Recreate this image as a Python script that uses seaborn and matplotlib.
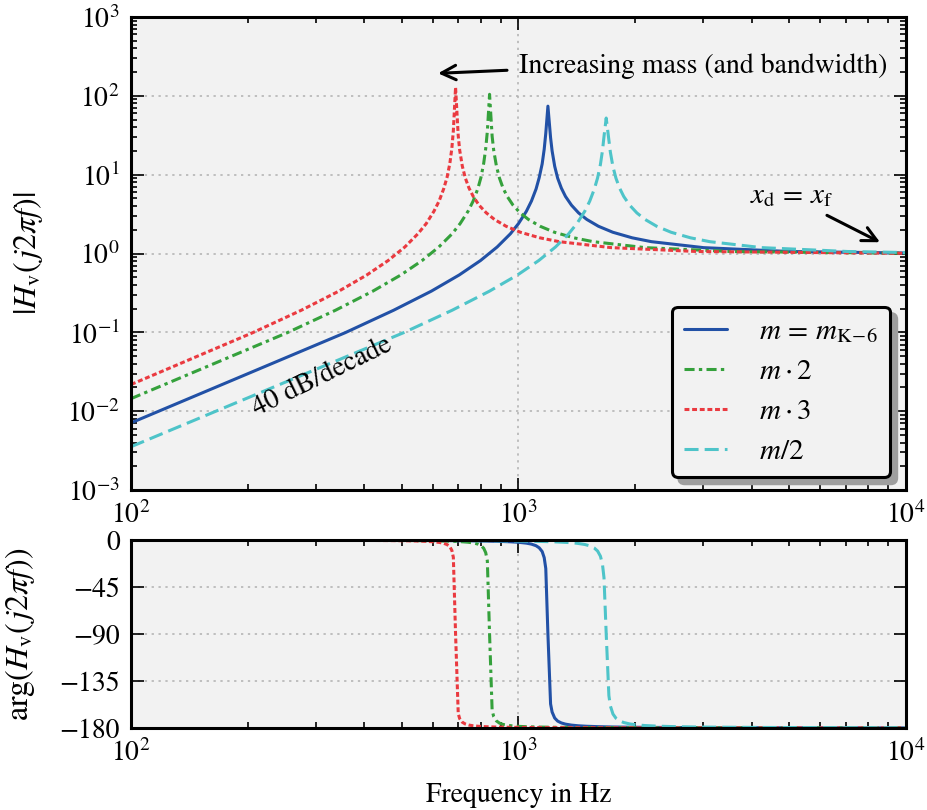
import numpy as np
import pandas as pd
import matplotlib
matplotlib.use("Agg")
import matplotlib.pyplot as plt
from matplotlib.ticker import LogLocator, NullFormatter, NullLocator, FixedLocator
import seaborn as sns

# ---- frequency response samples (Hz, |H|, phase in degrees) ----
freq_k6 = [100, 357, 476, 596, 703, 798, 881, 953, 1000, 1048, 1080, 1110, 1131,
           1151, 1165, 1176, 1191, 1210, 1221, 1240, 1262, 1290, 1322, 1370, 1429,
           1501, 1608, 1751, 1965, 2203, 3001, 5002, 10000]
mag_k6 = [0.0071, 0.0989, 0.1905, 0.3333, 0.534, 0.8146, 1.210, 1.778, 2.397, 3.433,
          4.628, 6.581, 9.177, 13.70, 21.03, 33.51, 74.0, 29.44, 20.02, 12.77, 9.03,
          6.751, 5.297, 4.101, 3.273, 2.702, 2.216, 1.861, 1.581, 1.413, 1.187, 1.060,
          1.0144]
phase_k6 = [-0.07, -0.26, -0.37, -0.52, -0.70, -0.94, -1.27, -1.72, -2.21, -3.02,
            -3.95, -5.48, -7.50, -11.05, -16.90, -27.31, -90.0, -156.93, -164.69,
            -170.46, -173.39, -175.16, -176.30, -177.24, -177.89, -178.34, -178.73,
            -179.02, -179.26, -179.41, -179.64, -179.80, -179.91]

freq_x2 = [100, 253, 337, 421, 497, 564, 623, 674, 707, 741, 764, 785, 800, 813, 823,
           831, 842, 855, 863, 877, 893, 912, 935, 968, 1010, 1061, 1137, 1238, 1389,
           1558, 2122, 3536, 10000]
mag_x2 = [0.01441, 0.0989, 0.1905, 0.3333, 0.534, 0.8146, 1.210, 1.778, 2.397, 3.433,
          4.633, 6.597, 9.217, 13.83, 21.49, 35.42, 104.6, 30.64, 20.37, 12.86, 9.06,
          6.78, 5.30, 4.101, 3.273, 2.702, 2.216, 1.861, 1.581, 1.413, 1.187, 1.060,
          1.0071]
phase_x2 = [-0.07, -0.18, -0.26, -0.37, -0.49, -0.66, -0.90, -1.22, -1.56, -2.14,
            -2.79, -3.88, -5.32, -7.86, -12.13, -20.07, -90.0, -163.25, -169.04,
            -173.22, -175.31, -176.58, -177.38, -178.05, -178.51, -178.83, -179.10,
            -179.31, -179.48, -179.58, -179.75, -179.86, -179.95]

freq_x3 = [100, 206, 275, 344, 406, 461, 509, 550, 578, 605, 624, 641, 654, 665, 673,
           679, 688, 699, 705, 716, 729, 745, 764, 791, 826, 867, 929, 1011, 1135,
           1273, 1734, 2890, 10000]
mag_x3 = [0.02178, 0.0989, 0.1905, 0.3333, 0.534, 0.8146, 1.210, 1.778, 2.397, 3.433,
          4.635, 6.602, 9.230, 13.87, 21.65, 36.15, 128.0, 31.08, 20.50, 12.89, 9.07,
          6.78, 5.305, 4.101, 3.273, 2.702, 2.216, 1.861, 1.581, 1.413, 1.187, 1.060,
          1.0047]
phase_x3 = [-0.07, -0.15, -0.21, -0.30, -0.40, -0.54, -0.73, -0.99, -1.28, -1.74,
            -2.28, -3.17, -4.35, -6.43, -9.95, -16.60, -90.0, -166.20, -171.02,
            -174.46, -176.17, -177.21, -177.86, -178.41, -178.78, -179.04, -179.27,
            -179.43, -179.57, -179.66, -179.79, -179.88, -179.97]

freq_half = [100, 505, 674, 842, 994, 1128, 1246, 1347, 1415, 1482, 1527, 1569, 1600,
             1627, 1647, 1662, 1684, 1711, 1726, 1753, 1785, 1824, 1869, 1937, 2021,
             2122, 2273, 2475, 2779, 3115, 4244, 7073, 10000]
mag_half = [0.003539, 0.0989, 0.1905, 0.3333, 0.534, 0.8146, 1.210, 1.778, 2.397,
            3.423, 4.617, 6.552, 9.100, 13.46, 20.19, 30.46, 52.3, 27.41, 19.35, 12.60,
            8.97, 6.736, 5.286, 4.091, 3.268, 2.702, 2.216, 1.861, 1.581, 1.413, 1.187,
            1.060, 1.0292]
phase_half = [-0.07, -0.37, -0.52, -0.74, -0.99, -1.33, -1.80, -2.43, -3.12, -4.27,
              -5.58, -7.72, -10.55, -15.45, -23.25, -36.15, -90.0, -148.94, -158.83,
              -166.62, -170.69, -173.17, -174.78, -176.10, -177.02, -177.65, -178.20,
              -178.61, -178.95, -179.16, -179.48, -179.72, -179.81]

labels = [r"$m\,=\,m_{\mathrm{K\!-\!6}}$", r"$m \cdot 2$", r"$m \cdot 3$", r"$m/2$"]
colors = ["#2251a6", "#35a13c", "#ea3a40", "#4ec4c9"]
styles = ["-", (0, (3.3, 1.4, 1.1, 1.4)), (0, (1.6, 0.9)), (0, (4.6, 2.0))]

phase_ticks = [0, -45, -90, -135, -180]

series = [
    (freq_k6, mag_k6, phase_k6),
    (freq_x2, mag_x2, phase_x2),
    (freq_x3, mag_x3, phase_x3),
    (freq_half, mag_half, phase_half),
]

# ---- styling ----
sns.set_theme(style="ticks")
plt.rcParams.update({
    "font.family": ["STIXGeneral", "DejaVu Serif"],
    "mathtext.fontset": "stix",
    "font.size": 20,
    "axes.labelsize": 20,
    "xtick.labelsize": 20,
    "ytick.labelsize": 20,
    "axes.edgecolor": "black",
    "xtick.color": "black",
    "ytick.color": "black",
    "text.color": "black",
    "axes.labelcolor": "black",
})

BG = "#f2f2f2"
LW = 2.2

fig = plt.figure(figsize=(9.27, 8.10), dpi=100)
ax_mag = fig.add_axes([131 / 927, 320 / 810, 775 / 927, 473 / 810])
ax_ph = fig.add_axes([131 / 927, 82 / 810, 775 / 927, 188 / 810])

for ax in (ax_mag, ax_ph):
    ax.set_facecolor(BG)
    ax.set_xscale("log")
ax_mag.set_yscale("log")

handles = []
for (f, m, p), lab, col, ls in zip(series, labels, colors, styles):
    df = pd.DataFrame({"f": f, "mag": m, "phase": p})
    sns.lineplot(data=df, x="f", y="mag", ax=ax_mag, color=col, linewidth=LW,
                 errorbar=None, legend=False)
    line = ax_mag.lines[-1]
    line.set_linestyle(ls)
    line.set_label(lab)
    line.set_dash_capstyle("butt")
    handles.append(line)
    sns.lineplot(data=df, x="f", y="phase", ax=ax_ph, color=col, linewidth=LW,
                 errorbar=None, legend=False)
    pl = ax_ph.lines[-1]
    pl.set_linestyle(ls)
    pl.set_dash_capstyle("butt")

# ---- axes ----
ax_mag.set_xlim(100, 1e4)
ax_mag.set_ylim(1e-3, 1e3)
ax_ph.set_xlim(100, 1e4)
ax_ph.set_ylim(-180, 0)

ax_mag.yaxis.set_major_locator(LogLocator(base=10, numticks=20))
ax_mag.yaxis.set_minor_locator(LogLocator(base=10, subs=np.arange(2, 10), numticks=50))
ax_mag.yaxis.set_minor_formatter(NullFormatter())
for ax in (ax_mag, ax_ph):
    ax.xaxis.set_major_locator(LogLocator(base=10, numticks=20))
    ax.xaxis.set_minor_locator(LogLocator(base=10, subs=np.arange(2, 10), numticks=50))
    ax.xaxis.set_minor_formatter(NullFormatter())
ax_ph.yaxis.set_major_locator(FixedLocator(phase_ticks))
ax_ph.yaxis.set_minor_locator(NullLocator())

for ax in (ax_mag, ax_ph):
    ax.tick_params(which="both", direction="in", top=True, right=True,
                   width=1.2, color="black")
    ax.tick_params(which="major", length=9, pad=8)
    ax.tick_params(which="minor", length=4.5)
    ax.grid(True, which="major", color="#b0b0b0", linestyle=(0, (1.5, 3.0)),
            linewidth=1.1)
    ax.grid(False, which="minor")
    for s in ax.spines.values():
        s.set_linewidth(2.2)
        s.set_color("black")
        s.set_visible(True)
    ax.set_xlabel("")
    ax.set_ylabel("")

ax_mag.set_ylabel(r"$|H_\mathrm{v}(\,j2\pi f)|$", fontsize=23)
ax_ph.set_ylabel(r"$\arg(H_\mathrm{v}(\,j2\pi f))$", fontsize=23)
ax_mag.yaxis.set_label_coords(-0.111, 0.5)
ax_ph.yaxis.set_label_coords(-0.121, 0.5)
ax_ph.set_xlabel("Frequency in Hz")
ax_ph.xaxis.set_label_coords(0.5, -0.29)

# ---- annotations ----
ax_mag.annotate("", xy=(620, 193), xytext=(934, 211),
                arrowprops=dict(arrowstyle="->", lw=2.2, color="black",
                                mutation_scale=26, shrinkA=0, shrinkB=0))
ax_mag.text(1003, 193, "Increasing mass (and bandwidth)", ha="left", va="baseline",
            fontsize=20)
ax_mag.annotate("", xy=(8570, 1.39), xytext=(6252, 3.05),
                arrowprops=dict(arrowstyle="->", lw=2.2, color="black",
                                mutation_scale=26, shrinkA=0, shrinkB=0))
ax_mag.text(3954, 4.34, r"$x_\mathrm{d}\,=\,x_\mathrm{f}$", ha="left", va="baseline",
            fontsize=21)
ax_mag.text(311, 0.027, "40 dB/decade", ha="center", va="center", rotation=26,
            rotation_mode="anchor", fontsize=20)

# ---- legend ----
leg = ax_mag.legend(handles=handles, labels=labels, loc="lower right",
                    bbox_to_anchor=(0.979, 0.028), borderaxespad=0,
                    frameon=True, fancybox=True, framealpha=1,
                    facecolor=BG, edgecolor="black",
                    shadow={"ox": 5, "oy": -5, "facecolor": "0.62",
                            "edgecolor": "0.62", "alpha": 1},
                    handlelength=1.5, handletextpad=1.1, labelspacing=0.47,
                    borderpad=0.4, fontsize=21)
leg.get_frame().set_linewidth(2.2)

fig.savefig("out.png", dpi=100, facecolor="white")
